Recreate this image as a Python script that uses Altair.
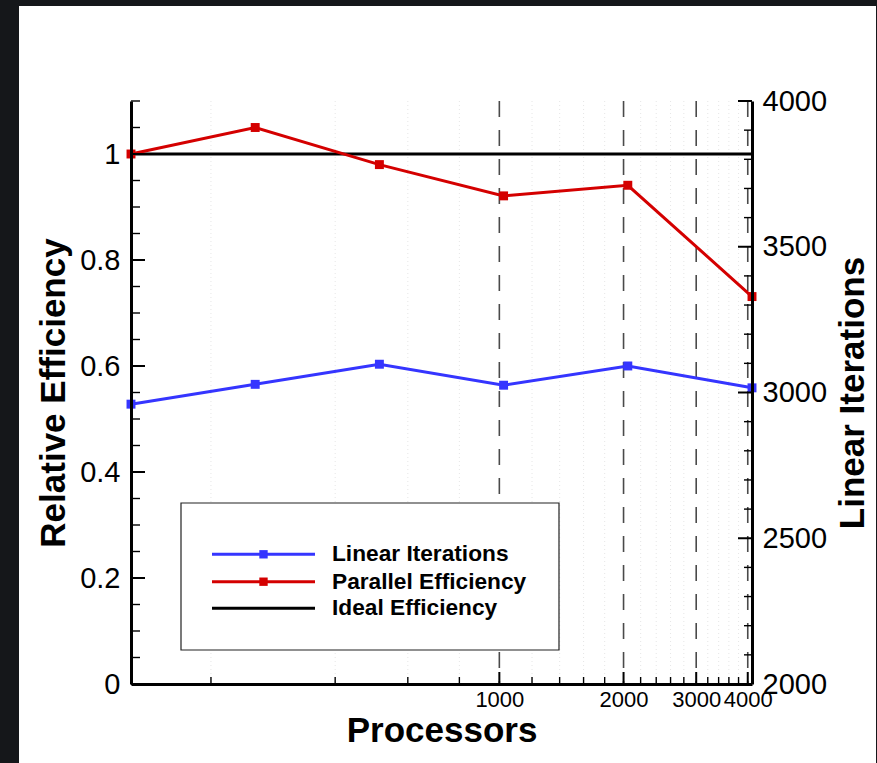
import altair as alt
import pandas as pd

# ---------------- data ----------------
processors = [128, 256, 512, 1024, 2048, 4096]
parallel_eff = [1.0, 1.05, 0.98, 0.921, 0.941, 0.731]
linear_iters = [2960, 3028, 3097, 3025, 3091, 3016]
ideal_eff = [1.0]

x_major = [1000, 2000, 3000, 4000]
x_minor = [200, 400, 600, 800, 1200, 1400, 1600, 1800, 2200, 2400, 2600, 2800,
           3200, 3400, 3600, 3800]
left_major = [0, 0.2, 0.4, 0.6, 0.8, 1.0]
left_minor = [0.05, 0.1, 0.15, 0.25, 0.3, 0.35, 0.45, 0.5, 0.55, 0.65, 0.7, 0.75,
              0.85, 0.9, 0.95, 1.05, 1.1]
right_major = [2000, 2500, 3000, 3500, 4000]
right_minor = [2100, 2200, 2300, 2400, 2600, 2700, 2800, 2900, 3100, 3200, 3300,
               3400, 3600, 3700, 3800, 3900]
legend_labels = ["Linear Iterations", "Parallel Efficiency", "Ideal Efficiency"]

# ---------------- style ----------------
W, H = 621, 583
LEFT, TOP = 131, 101
FONT = "Liberation Sans"
RED = "#d40000"
BLUE = "#3535ff"

eff_df = pd.DataFrame({"proc": processors, "eff": parallel_eff})
it_df = pd.DataFrame({"proc": processors, "iters": linear_iters})

xscale = alt.Scale(type="log", domain=[128, 4096], nice=False)
xaxis = alt.Axis(values=x_major, format="d", ticks=False, tickSize=0, grid=False, zindex=1,
                 domainColor="black", domainWidth=3, labelFont=FONT, labelFontSize=22,
                 labelColor="black", labelPadding=5, labelOverlap=False, labelFlush=False,
                 title="Processors", titleFont=FONT, titleFontSize=35, titleFontWeight="bold",
                 titleColor="black", titleY=46, titleBaseline="middle")
X = alt.X("proc:Q", scale=xscale, axis=xaxis)

yl_scale = alt.Scale(domain=[0, 1.1], nice=False, zero=False)
yl_axis = alt.Axis(orient="left", values=left_major, format="~g", ticks=False, tickSize=0,
                   grid=False, zindex=1, domainColor="black", domainWidth=3, labelFont=FONT,
                   labelFontSize=29, labelColor="black", labelPadding=11, labelFlush=False,
                   labelOverlap=False,
                   title="Relative Efficiency", titleFont=FONT, titleFontSize=35,
                   titleFontWeight="bold", titleColor="black", titleAngle=270,
                   titleX=-78, titleBaseline="middle")
YL = alt.Y("eff:Q", scale=yl_scale, axis=yl_axis)

yr_scale = alt.Scale(domain=[2000, 4000], nice=False, zero=False)
yr_axis = alt.Axis(orient="right", values=right_major, format="d", ticks=False, tickSize=0,
                   grid=False, zindex=1, domainColor="black", domainWidth=3, labelFont=FONT,
                   labelFontSize=29, labelColor="black", labelPadding=10, labelFlush=False,
                   labelOverlap=False,
                   title="Linear Iterations", titleFont=FONT, titleFontSize=35,
                   titleFontWeight="bold", titleColor="black", titleAngle=270,
                   titleX=100, titleBaseline="middle")
YR = alt.Y("iters:Q", scale=yr_scale, axis=yr_axis)

one = pd.DataFrame({"k": [0]})

# white panel behind the plot
panel = alt.Chart(one).mark_rect(fill="white").encode(
    x=alt.value(19 - LEFT), x2=alt.value(876 - LEFT),
    y=alt.value(6 - TOP), y2=alt.value(763 - TOP))

faint_grid = alt.Chart(pd.DataFrame({"proc": x_minor})).mark_rule(
    color="#e0e0e0", strokeWidth=0.8, strokeDash=[1, 3]).encode(x=X)
dash_grid = alt.Chart(pd.DataFrame({"proc": x_major})).mark_rule(
    color="#4a4a4a", strokeWidth=1.6, strokeDash=[16, 13]).encode(x=X)

ideal = alt.Chart(pd.DataFrame({"eff": ideal_eff})).mark_rule(
    color="black", strokeWidth=3).encode(y=YL)

red_line = alt.Chart(eff_df).mark_line(color=RED, strokeWidth=3).encode(x=X, y=YL)
red_pts = alt.Chart(eff_df).mark_point(shape="square", filled=True, size=80, color=RED,
                                       opacity=1).encode(x=X, y=YL)

lmaj = alt.Chart(pd.DataFrame({"eff": left_major})).mark_rule(
    color="black", strokeWidth=2).encode(y=YL, x=alt.value(0), x2=alt.value(14))
lmin = alt.Chart(pd.DataFrame({"eff": left_minor})).mark_rule(
    color="black", strokeWidth=1.4).encode(y=YL, x=alt.value(0), x2=alt.value(9))
xmaj = alt.Chart(pd.DataFrame({"proc": x_major})).mark_rule(
    color="black", strokeWidth=2).encode(x=X, y=alt.value(H - 12), y2=alt.value(H))
xmin = alt.Chart(pd.DataFrame({"proc": x_minor})).mark_rule(
    color="black", strokeWidth=1.4).encode(x=X, y=alt.value(H - 7), y2=alt.value(H))

# legend
box = alt.Chart(one).mark_rect(fill="white", stroke="#222", strokeWidth=1.2).encode(
    x=alt.value(50), x2=alt.value(428), y=alt.value(402), y2=alt.value(549))
leg_rows = [453.3, 480.7, 507.3]
leg_colors = [BLUE, RED, "black"]
legend_layers = [box]
for i, (lab, col, yy) in enumerate(zip(legend_labels, leg_colors, leg_rows)):
    legend_layers.append(alt.Chart(one).mark_rule(color=col, strokeWidth=3).encode(
        x=alt.value(81), x2=alt.value(184), y=alt.value(yy)))
    if i < 2:
        legend_layers.append(alt.Chart(one).mark_point(
            shape="square", filled=True, size=70, color=col, opacity=1).encode(
            x=alt.value(132.5), y=alt.value(yy)))
    legend_layers.append(alt.Chart(pd.DataFrame({"label": [lab]})).mark_text(
        align="left", baseline="middle", font=FONT, fontSize=22.7, fontWeight="bold",
        color="black").encode(x=alt.value(201), y=alt.value(yy), text="label:N"))

layer_a = alt.layer(panel, faint_grid, dash_grid, ideal, red_line, red_pts,
                    lmaj, lmin, xmaj, xmin, *legend_layers)

blue_line = alt.Chart(it_df).mark_line(color=BLUE, strokeWidth=3).encode(x=X, y=YR)
blue_pts = alt.Chart(it_df).mark_point(shape="square", filled=True, size=80, color=BLUE,
                                       opacity=1).encode(x=X, y=YR)
rmaj = alt.Chart(pd.DataFrame({"iters": right_major})).mark_rule(
    color="black", strokeWidth=2).encode(y=YR, x=alt.value(W - 14), x2=alt.value(W))
rmin = alt.Chart(pd.DataFrame({"iters": right_minor})).mark_rule(
    color="black", strokeWidth=1.4).encode(y=YR, x=alt.value(W - 8), x2=alt.value(W + 2))

layer_b = alt.layer(blue_line, blue_pts, rmaj, rmin)

chart = alt.layer(layer_a, layer_b).resolve_scale(y="independent").properties(
    width=W, height=H,
    autosize=alt.AutoSizeParams(type="none"),
    padding={"left": LEFT, "top": TOP, "right": 877 - LEFT - W, "bottom": 763 - TOP - H},
    background="#15171a",
).configure_view(stroke=None)

chart.save("out.html", embed_options={"renderer": "svg", "actions": False})
